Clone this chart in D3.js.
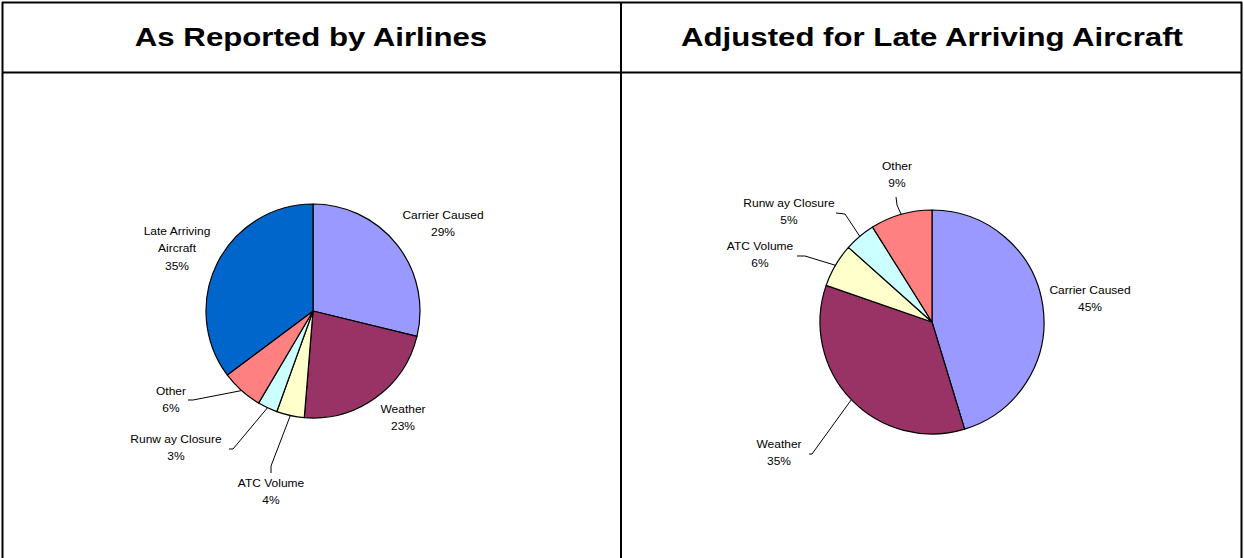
<!DOCTYPE html>
<html>
<head>
<meta charset="utf-8">
<script src="https://cdn.jsdelivr.net/npm/d3@7"></script>
<style>
  html, body { margin: 0; padding: 0; background: #fff; }
  svg { display: block; }
  text { font-family: "Liberation Sans", Arial, sans-serif; fill: #000; }
</style>
</head>
<body>
<svg id="chart" width="1244" height="558"></svg>
<script>
// ---- data ----
const panelTitles = ["As Reported by Airlines", "Adjusted for Late Arriving Aircraft"];
const reportedCategories = ["Carrier Caused", "Weather", "ATC Volume", "Runw ay Closure", "Other", "Late Arriving\nAircraft"];
const reportedValues = [28.8, 22.5, 4.2, 3.0, 6.3, 35.2];
const adjustedCategories = ["Carrier Caused", "Weather", "ATC Volume", "Runw ay Closure", "Other"];
const adjustedValues = [45.3, 35.0, 6.3, 4.5, 8.9];
const sliceColors = ["#9999FF", "#993366", "#FFFFCC", "#CCFFFF", "#FF8080", "#0066CC"];

// ---- layout (label placement relative to each pie centre) ----
const layoutLeft = {
  cx: 313, cy: 311, r: 107,
  labels: [
    { dx: 130, dy: -96 },              // Carrier Caused
    { dx: 90, dy: 98 },                // Weather
    { dx: -42, dy: 172, lead: [[-42, 162], [-42, 155]] }, // ATC
    { dx: -137, dy: 128, lead: [[-84, 138], [-80, 138]] }, // Runway
    { dx: -142, dy: 80, lead: [[-125, 89], [-120, 89]] },  // Other
    { dx: -136, dy: -80 }              // Late Arriving
  ]
};
const layoutRight = {
  cx: 932, cy: 322, r: 112,
  labels: [
    { dx: 158, dy: -32 },              // Carrier Caused
    { dx: -153, dy: 122, lead: [[-123, 132], [-120, 132]] }, // Weather
    { dx: -172, dy: -76, lead: [[-135, -66], [-127, -66]] }, // ATC
    { dx: -143, dy: -119, lead: [[-96, -109], [-87, -108]] }, // Runway
    { dx: -35, dy: -156, lead: [[-36, -125], [-35, -117]] }  // Other
  ]
};

const svg = d3.select("#chart");
const W = 1244, H = 558;
const lineH = 17.5;
const sx = 1.2; // horizontal stretch of text, as in the reference

// ---- frame ----
const frame = svg.append("g").attr("stroke", "#000").attr("stroke-width", 2).attr("fill", "none");
frame.append("line").attr("x1", 2).attr("x2", 1242).attr("y1", 2.5).attr("y2", 2.5);
frame.append("line").attr("x1", 2).attr("x2", 1242).attr("y1", 72.5).attr("y2", 72.5);
frame.append("line").attr("x1", 2.5).attr("x2", 2.5).attr("y1", 2).attr("y2", H);
frame.append("line").attr("x1", 621).attr("x2", 621).attr("y1", 2).attr("y2", H);
frame.append("line").attr("x1", 1241.5).attr("x2", 1241.5).attr("y1", 2).attr("y2", H);

// ---- titles ----
const titleX = d3.scalePoint().domain(panelTitles).range([311, 932]);
panelTitles.forEach(t => {
  svg.append("text")
    .attr("transform", `translate(${titleX(t)},37) scale(${sx},1)`)
    .attr("text-anchor", "middle")
    .attr("dy", "0.35em")
    .attr("font-size", 26)
    .attr("font-weight", "bold")
    .text(t);
});

function drawPie(categories, values, layout) {
  const g = svg.append("g").attr("transform", `translate(${layout.cx},${layout.cy})`);
  const pie = d3.pie().sort(null).value(d => d.v);
  const data = categories.map((c, i) => ({ c, v: values[i], i }));
  const arcs = pie(data);
  const arc = d3.arc().innerRadius(0).outerRadius(layout.r);
  g.selectAll("path.slice").data(arcs).join("path")
    .attr("class", "slice")
    .attr("d", arc)
    .attr("fill", d => sliceColors[d.data.i])
    .attr("stroke", "#000")
    .attr("stroke-width", 1.2)
    .attr("stroke-linejoin", "round");

  arcs.forEach((a, k) => {
    const L = layout.labels[k];
    const mid = (a.startAngle + a.endAngle) / 2;
    const ex = layout.r * Math.sin(mid), ey = -layout.r * Math.cos(mid);
    if (L.lead) {
      const pts = L.lead.concat([[ex, ey]]);
      g.append("path")
        .attr("d", d3.line()(pts))
        .attr("fill", "none")
        .attr("stroke", "#000")
        .attr("stroke-width", 1);
    }
    const lines = a.data.c.split("\n").concat([Math.round(a.data.v) + "%"]);
    lines.forEach((s, j) => {
      g.append("text")
        .attr("transform", `translate(${L.dx},${L.dy + j * lineH}) scale(${sx},1)`)
        .attr("text-anchor", "middle")
        .attr("dy", "0.35em")
        .attr("font-size", 10)
        .text(s);
    });
  });
}

drawPie(reportedCategories, reportedValues, layoutLeft);
drawPie(adjustedCategories, adjustedValues, layoutRight);
</script>
</body>
</html>
